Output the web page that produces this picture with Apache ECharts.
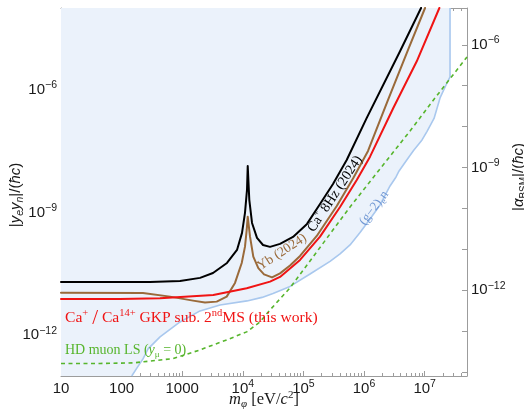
<!DOCTYPE html>
<html><head><meta charset="utf-8">
<script src="https://cdn.jsdelivr.net/npm/echarts@6/dist/echarts.min.js"></script>
<style>html,body{margin:0;padding:0;background:#fff}#c{width:524px;height:414px}</style>
</head><body><div id="c"></div>
<script>
// ---------------- data (mass m_phi in eV, coupling |y_e y_n|/(hbar c)) ----------------
const caMass = [10, 294, 920, 1970, 3220, 5480, 8020, 9700, 10860, 11720, 12050, 12790, 14190, 17140, 21530, 28120, 41110, 67300, 114600, 187900, 307600, 517600, 1.109e6, 3.926e6, 8.73e6];
const caCoupling = [2.0e-11, 2.0e-11, 2.11e-11, 2.51e-11, 3.31e-11, 5.82e-11, 1.21e-10, 3.16e-10, 9.77e-10, 3.55e-9, 1.37e-8, 2.04e-9, 5.53e-10, 2.38e-10, 1.60e-10, 1.44e-10, 1.70e-10, 2.52e-10, 5.24e-10, 1.61e-9, 4.98e-9, 1.92e-8, 2.05e-7, 8.73e-6, 1e-4];

const ybMass = [10, 225, 630, 1507, 2377, 3707, 5420, 7430, 9594, 10860, 11590, 12050, 13150, 14890, 18030, 22390, 30340, 41110, 60120, 87900, 166000, 354800, 665300, 1.164e6, 2.489e6, 5.321e6, 1.016e7];
const ybCoupling = [1.094e-11, 1.076e-11, 8.73e-12, 6.97e-12, 6.24e-12, 6.59e-12, 8.73e-12, 1.888e-11, 5.82e-11, 1.459e-10, 3.73e-10, 7.89e-10, 2.56e-10, 8.30e-11, 4.33e-11, 3.05e-11, 2.58e-11, 3.23e-11, 5.06e-11, 8.63e-11, 2.66e-10, 1.442e-9, 6.97e-9, 3.19e-8, 5.64e-7, 9.40e-6, 1e-4];

const gkpMass = [10, 94.2, 430.5, 3258, 11590, 28120, 41110, 87900, 187900, 401800, 758600, 1.256e6, 3.041e6, 7.413e6, 1.750e7];
const gkpCoupling = [7.67e-12, 7.67e-12, 7.98e-12, 9.62e-12, 1.403e-11, 2.03e-11, 2.65e-11, 6.90e-11, 2.56e-10, 1.361e-9, 6.24e-9, 2.31e-8, 3.59e-7, 4.98e-6, 1e-4];

const hdMass = [10, 44.1, 154.2, 704.7, 1968, 5420, 11590, 19230, 28120, 60120, 128500, 274800, 587500, 2.399e6, 5.741e6, 1.486e7, 5.0e7];
const hdCoupling = [2.03e-13, 2.03e-13, 2.09e-13, 2.66e-13, 4.35e-13, 7.64e-13, 1.20e-12, 2.10e-12, 4.13e-12, 1.43e-11, 6.52e-11, 2.98e-10, 1.361e-9, 1.92e-8, 9.84e-8, 6.31e-7, 6.34e-6];

const g2Mass = [146.9, 179.5, 225.4, 272.9, 430.5, 920.4, 1968, 4207, 11720, 20750, 31480, 60120, 128500, 274800, 401800, 587500, 859000, 1.256e6, 1.837e6, 2.685e6, 3.373e6, 3.784e6, 5.070e6, 6.561e6, 9.057e6, 1.096e7, 1.429e7, 1.795e7, 2.254e7, 2.624e7, 2.624e7];
const g2Coupling = [1e-13, 1.578e-13, 2.618e-13, 4.603e-13, 9.04e-13, 2.10e-12, 3.91e-12, 5.47e-12, 6.86e-12, 8.36e-12, 1.047e-11, 1.552e-11, 3.13e-11, 6.34e-11, 9.66e-11, 1.603e-10, 3.24e-10, 6.93e-10, 1.524e-9, 4.45e-9, 7.38e-9, 1.035e-8, 1.923e-8, 3.28e-8, 5.93e-8, 9.66e-8, 1.986e-7, 6.31e-7, 1.309e-6, 2.056e-6, 1e-4];

// axis ranges and ticks
const xMin = 10, xMax = 5e7;
const yMin = 1e-13, yMax = 1e-4;
const alphaPerCoupling = 1 / (4 * Math.PI);
const xMajorTicks = [10, 100, 1000, 1e4, 1e5, 1e6, 1e7];
const xMinorTicks = [20,30,40,50,60,70,80,90, 200,300,400,500,600,700,800,900, 2000,3000,4000,5000,6000,7000,8000,9000,
  2e4,3e4,4e4,5e4,6e4,7e4,8e4,9e4, 2e5,3e5,4e5,5e5,6e5,7e5,8e5,9e5, 2e6,3e6,4e6,5e6,6e6,7e6,8e6,9e6, 2e7,3e7,4e7,5e7];
const yLeftTicks = [1e-13,1e-12,1e-11,1e-10,1e-9,1e-8,1e-7,1e-6,1e-5];
const yLeftLabels = [1e-12, 1e-9, 1e-6];
const yRightTicks = [1e-14,1e-13,1e-12,1e-11,1e-10,1e-9,1e-8,1e-7,1e-6];
const yRightLabels = [1e-12, 1e-9, 1e-6];

// ---------------- styling ----------------
const SANS = 'Liberation Sans, Arial, Helvetica, sans-serif';
const SERIF = 'Liberation Serif, Times New Roman, serif';
const FRAME = '#9c9c9c';
const TXT = '#1a1a1a';
const RED = '#f01414', BROWN = '#9a6a3a', BLACK = '#000000', GREEN = '#56b52c', BLUEL = '#a9c8ee', FILL = '#ebf2fb';

const tickRich = {
  b: {fontSize: 15, lineHeight: 20, fontFamily: SANS, color: TXT},
  s: {fontSize: 10.5, lineHeight: 11, verticalAlign: 'top', fontFamily: SANS, color: TXT}
};
function pow10Label(v) {
  const e = Math.round(Math.log10(v));
  if (e >= 1 && e <= 3) return '{b|' + Math.pow(10, e) + '}';
  return '{b|10}{s|' + (e < 0 ? '\u2212' + (-e) : e) + '}';
}
function pairs(xs, ys) { return xs.map((x, i) => [x, ys[i]]); }

const frameLine = {show: true, onZero: false, lineStyle: {color: FRAME, width: 1}};
function xAxisDef(pos, ticks, len, withLine, withLabel, extra) {
  return Object.assign({
    type: 'log', logBase: 10, min: xMin, max: xMax, position: pos, gridIndex: 0,
    axisLine: withLine ? frameLine : {show: false},
    axisTick: {show: true, inside: true, length: len, lineStyle: {color: FRAME, width: 1}, customValues: ticks},
    axisLabel: withLabel ? {show: true, customValues: xMajorTicks, formatter: pow10Label, rich: tickRich, margin: 3} : {show: false},
    splitLine: {show: false}, minorTick: {show: false}, minorSplitLine: {show: false}, nameMoveOverlap: false
  }, extra || {});
}

const nameRichSans = {
  n: {fontSize: 15, lineHeight: 20, fontFamily: SANS, color: TXT},
  i: {fontSize: 15, lineHeight: 20, fontFamily: SANS, fontStyle: 'italic', color: TXT},
  sub: {fontSize: 10.5, lineHeight: 10, verticalAlign: 'bottom', fontFamily: SANS, fontStyle: 'italic', color: TXT},
  subu: {fontSize: 10, lineHeight: 10, verticalAlign: 'bottom', fontFamily: SANS, color: TXT}
};
const nameRichSerif = {
  n: {fontSize: 16.5, lineHeight: 20, fontFamily: SERIF, color: TXT},
  i: {fontSize: 16.5, lineHeight: 20, fontFamily: SERIF, fontStyle: 'italic', color: TXT},
  sub: {fontSize: 11, lineHeight: 10, verticalAlign: 'bottom', fontFamily: SERIF, fontStyle: 'italic', color: TXT},
  sup: {fontSize: 11, lineHeight: 10, verticalAlign: 'top', fontFamily: SERIF, color: TXT}
};

function curve(name, xs, ys, color, width, z, extra) {
  return Object.assign({
    type: 'line', name: name, xAxisIndex: 0, yAxisIndex: 0, z: z,
    data: pairs(xs, ys), showSymbol: false, symbol: 'none', smooth: false,
    lineStyle: {color: color, width: width, join: 'round', cap: 'round'}
  }, extra || {});
}

const option = {
  animation: false,
  backgroundColor: '#ffffff',
  grid: {left: 61, right: 57, top: 8, bottom: 38, containLabel: false, outerBoundsMode: 'none'},
  xAxis: [
    xAxisDef('bottom', xMajorTicks, 5, true, true, {
      name: '{i|m}{sub|\u03c6}{n| [eV/}{i|c}{sup|2}{n|]}', nameLocation: 'middle', nameGap: 14,
      nameTextStyle: {rich: nameRichSerif}
    }),
    xAxisDef('bottom', xMinorTicks, 3, false, false),
    xAxisDef('top', xMajorTicks, 5, true, false),
    xAxisDef('top', xMinorTicks, 3, false, false)
  ],
  yAxis: [
    {
      type: 'log', logBase: 10, min: yMin, max: yMax, position: 'left',
      axisLine: frameLine,
      axisTick: {show: true, inside: true, length: 5, lineStyle: {color: FRAME}, customValues: yLeftTicks},
      axisLabel: {show: true, customValues: yLeftLabels, formatter: pow10Label, rich: tickRich, margin: 4},
      splitLine: {show: false}, minorTick: {show: false},
      name: '{n||}{i|y}{sub|e}{i|y}{sub|n}{n||/(}{i|\u0127c}{n|)}', nameLocation: 'middle', nameRotate: 90, nameGap: 35,
      nameTextStyle: {rich: nameRichSans, padding: [0, 6, 0, 0]}, nameMoveOverlap: false
    },
    {
      type: 'log', logBase: 10, min: yMin * alphaPerCoupling, max: yMax * alphaPerCoupling, position: 'right',
      axisLine: frameLine,
      axisTick: {show: true, inside: true, length: 5, lineStyle: {color: FRAME}, customValues: yRightTicks},
      axisLabel: {show: true, customValues: yRightLabels, formatter: pow10Label, rich: tickRich, margin: 4},
      splitLine: {show: false}, minorTick: {show: false},
      name: '{n||}{i|\u03b1}{subu|BSM}{n||/(}{i|\u0127c}{n|)}', nameLocation: 'middle', nameRotate: 90, nameGap: 42,
      nameTextStyle: {rich: nameRichSans, padding: [0, 0, 0, 30]}, nameMoveOverlap: false
    }
  ],
  series: [
    { // excluded region above (g-2)_e n bound
      type: 'line', name: 'excluded', xAxisIndex: 0, yAxisIndex: 0, z: 1,
      data: [[xMin, yMin]].concat(pairs(g2Mass, g2Coupling)),
      showSymbol: false, symbol: 'none', silent: true,
      lineStyle: {width: 0, opacity: 0},
      areaStyle: {color: FILL, opacity: 1, origin: 'end'}
    },
    {
      type: 'line', name: '(g-2)e n', xAxisIndex: 0, yAxisIndex: 0, z: 2,
      data: pairs(g2Mass, g2Coupling), showSymbol: false, symbol: 'none',
      lineStyle: {color: BLUEL, width: 1.6}
    },
    curve('HD muon LS', hdMass, hdCoupling, GREEN, 1.6, 3, {lineStyle: {color: GREEN, width: 1.6, type: [4, 3.5]}}),
    curve('Yb (2024)', ybMass, ybCoupling, BROWN, 2, 4),
    curve('Ca+ 8Hz (2024)', caMass, caCoupling, BLACK, 2, 5),
    curve('Ca+/Ca14+ GKP', gkpMass, gkpCoupling, RED, 2, 6)
  ],
  graphic: [
    {type: 'text', x: 65, y: 318, z: 10, style: {
      text: '{a|Ca}{p|+}{a| }{sl|/}{a| Ca}{p|14+}{a| GKP sub. 2}{p|nd}{a|MS (this work)}',
      align: 'left', verticalAlign: 'middle',
      rich: {
        a: {fontSize: 15.6, lineHeight: 20, fontFamily: SERIF, fill: RED},
        p: {fontSize: 10.5, lineHeight: 10, verticalAlign: 'top', fontFamily: SERIF, fill: RED},
        sl: {fontSize: 21, lineHeight: 20, fontFamily: SERIF, fill: RED}
      }}},
    {type: 'text', x: 65, y: 350, z: 10, style: {
      text: '{a|HD muon LS (}{i|y}{u|\u03bc}{a| = 0)}',
      align: 'left', verticalAlign: 'middle',
      rich: {
        a: {fontSize: 14, lineHeight: 18, fontFamily: SERIF, fill: GREEN},
        i: {fontSize: 14, lineHeight: 18, fontFamily: SERIF, fontStyle: 'italic', fill: GREEN},
        u: {fontSize: 9, lineHeight: 9, verticalAlign: 'bottom', fontFamily: SERIF, fill: GREEN}
      }}},
    {type: 'text', x: 282, y: 252, rotation: 33 * Math.PI / 180, z: 10, style: {
      text: 'Yb (2024)', align: 'center', verticalAlign: 'middle',
      font: '13.5px ' + SERIF, fill: BROWN}},
    {type: 'text', x: 335, y: 194, rotation: 56.5 * Math.PI / 180, z: 10, style: {
      text: '{a|Ca}{p|+}{a| 8Hz (2024)}', align: 'center', verticalAlign: 'middle',
      rich: {
        a: {fontSize: 14, lineHeight: 18, fontFamily: SERIF, fill: BLACK},
        p: {fontSize: 9, lineHeight: 9, verticalAlign: 'top', fontFamily: SERIF, fill: BLACK}
      }}},
    {type: 'text', x: 374, y: 208, rotation: 53 * Math.PI / 180, z: 10, style: {
      text: '{a|(g\u22122)}{u|e}{a|n}', align: 'center', verticalAlign: 'middle',
      rich: {
        a: {fontSize: 13, lineHeight: 17, fontFamily: SERIF, fill: '#7097d3'},
        u: {fontSize: 9, lineHeight: 9, verticalAlign: 'bottom', fontFamily: SERIF, fill: '#7097d3'}
      }}}
  ]
};

const chart = echarts.init(document.getElementById('c'), null, {renderer: 'canvas'});
chart.setOption(option);
</script>
</body></html>
